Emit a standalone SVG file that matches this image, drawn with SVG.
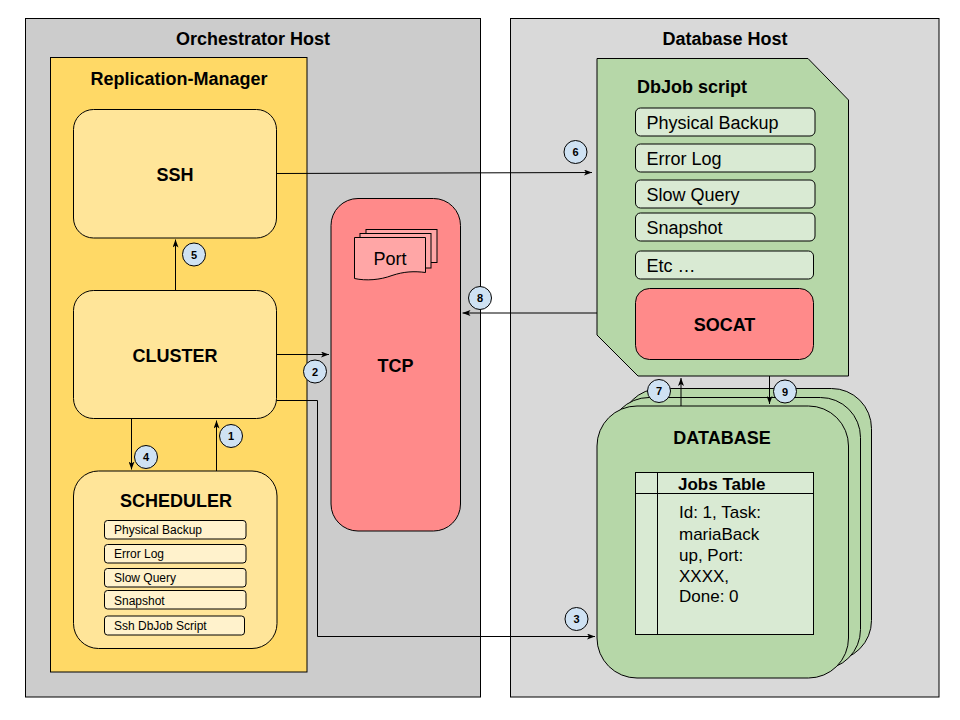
<svg xmlns="http://www.w3.org/2000/svg" width="960" height="720" viewBox="0 0 960 720">
<style>
text{font-family:"Liberation Sans",Arial,sans-serif;fill:#000}
.t{font-size:18px;font-weight:bold;text-anchor:middle}
.host{stroke:#000;stroke-width:1}
.box{fill:#ffe599;stroke:#000;stroke-width:1}
.si{fill:#fff2cc;stroke:#000;stroke-width:1}
.si-t{font-size:12px}
.di{fill:#d9ead3;stroke:#000;stroke-width:1}
.di-t{font-size:18px}
.g{fill:#b6d7a8;stroke:#000;stroke-width:1}
.red{fill:#ff8a8a;stroke:#000;stroke-width:1}
.c{fill:#cfe2f3;stroke:#000;stroke-width:1}
.n{font-size:11px;font-weight:bold;text-anchor:middle}
.e{fill:none;stroke:#000;stroke-width:1;marker-end:url(#arr)}
</style>
<defs>
<marker id="arr" viewBox="0 0 8 6" refX="8" refY="3" markerWidth="8" markerHeight="6" markerUnits="userSpaceOnUse" orient="auto">
<path d="M0,0 L8,3 L0,6 L2,3 Z" fill="#000"/>
</marker>
</defs>
<rect width="960" height="720" fill="#fff"/>

<g id="orchestrator-host">
<rect class="host" x="25.5" y="18.5" width="455" height="678.5" fill="#cccccc"/>
<text class="t" x="253" y="45">Orchestrator Host</text>
</g>
<g id="database-host">
<rect class="host" x="510.5" y="18.5" width="428.5" height="678.5" fill="#d9d9d9"/>
<text class="t" x="725" y="45">Database Host</text>
</g>
<g id="replication-manager">
<rect class="host" x="50.5" y="57.5" width="256.5" height="614.5" fill="#ffd966"/>
<text class="t" x="179" y="85">Replication-Manager</text>
</g>
<g id="ssh">
<rect class="box" x="73.5" y="109.5" width="203" height="128.5" rx="20"/>
<text class="t" x="175" y="181">SSH</text>
</g>
<g id="cluster">
<rect class="box" x="73.5" y="290.5" width="203" height="128" rx="20"/>
<text class="t" x="175" y="361.5">CLUSTER</text>
</g>
<g id="scheduler">
<rect class="box" x="73.5" y="471" width="203.5" height="177.5" rx="25"/>
<text class="t" x="176" y="507">SCHEDULER</text>
<rect class="si" x="104.5" y="520.5" width="141.5" height="18.5" rx="3"/>
<text class="si-t" x="114" y="534">Physical Backup</text>
<rect class="si" x="104.5" y="544.5" width="141.5" height="18.5" rx="3"/>
<text class="si-t" x="114" y="558">Error Log</text>
<rect class="si" x="104.5" y="568.5" width="141.5" height="18.5" rx="3"/>
<text class="si-t" x="114" y="582">Slow Query</text>
<rect class="si" x="104.5" y="590.5" width="141.5" height="18.5" rx="3"/>
<text class="si-t" x="114" y="604.5">Snapshot</text>
<rect class="si" x="104.5" y="616" width="140" height="19" rx="3"/>
<text class="si-t" x="114" y="630">Ssh DbJob Script</text>
</g>
<g id="tcp">
<rect class="red" x="331" y="198.5" width="129.5" height="332.5" rx="27"/>
<rect x="366" y="229.5" width="71" height="33" fill="#ffa6a6" stroke="#000"/>
<rect x="360" y="233.5" width="71" height="34.5" fill="#ffa6a6" stroke="#000"/>
<path d="M354.5,237.5 H425.5 V272.5 C414,271 404,271.5 392,275.5 C380,280 366,281 354.5,278.5 Z" fill="#ffa6a6" stroke="#000"/>
<text x="390" y="265" font-size="18" text-anchor="middle">Port</text>
<text class="t" x="395.5" y="372">TCP</text>
</g>
<g id="dbjob-script">
<path class="g" d="M597,58.5 H808 L848.5,100 V376 H638 L597,335 Z"/>
<text x="637" y="92.5" font-size="18" font-weight="bold">DbJob script</text>
<rect class="di" x="635.5" y="108" width="179.5" height="28" rx="5"/>
<text class="di-t" x="646.5" y="128.5">Physical Backup</text>
<rect class="di" x="635.5" y="144" width="179.5" height="28" rx="5"/>
<text class="di-t" x="646.5" y="164.5">Error Log</text>
<rect class="di" x="635.5" y="180" width="179.5" height="28" rx="5"/>
<text class="di-t" x="646.5" y="200.5">Slow Query</text>
<rect class="di" x="635.5" y="213" width="179.5" height="28" rx="5"/>
<text class="di-t" x="646.5" y="233.5">Snapshot</text>
<rect class="di" x="635.5" y="251" width="178" height="28" rx="5"/>
<text class="di-t" x="646.5" y="271.5">Etc …</text>
</g>
<g id="socat">
<rect class="red" x="635.5" y="288.5" width="178" height="71" rx="14"/>
<text class="t" x="724.5" y="330.5">SOCAT</text>
</g>
<g id="database">
<rect class="g" x="620.5" y="388.5" width="251" height="272" rx="40"/>
<rect class="g" x="609" y="397.5" width="251.5" height="272" rx="40"/>
<rect class="g" x="597" y="406" width="251.5" height="272" rx="40"/>
<text class="t" x="722" y="444">DATABASE</text>
</g>
<g id="jobs-table">
<rect class="di" x="635.5" y="472.5" width="178" height="162"/>
<line x1="635.5" y1="493.5" x2="813.5" y2="493.5" stroke="#000"/>
<line x1="657.5" y1="472.5" x2="657.5" y2="634.5" stroke="#000"/>
<text x="678" y="489.5" font-size="17" font-weight="bold">Jobs Table</text>
<text x="679" y="518" font-size="17">Id: 1, Task:</text>
<text x="679" y="540" font-size="17">mariaBack</text>
<text x="679" y="561" font-size="17">up, Port:</text>
<text x="679" y="581.5" font-size="17">XXXX,</text>
<text x="679" y="602" font-size="17">Done: 0</text>
</g>

<g id="connectors">
<path class="e" d="M216.5,471 V420.5"/>
<path class="e" d="M276.5,354.5 H329"/>
<path class="e" d="M276.5,400.5 H317.5 V636.5 H595"/>
<path class="e" d="M131.5,418.5 V469.5"/>
<path class="e" d="M175.5,290.5 V239.5"/>
<path class="e" d="M276.5,173.5 L592,172.5"/>
<path class="e" d="M681,406 V378"/>
<path class="e" d="M597,313 H462.5"/>
<path class="e" d="M769.5,376 V404"/>
</g>

<g id="labels">
<circle class="c" cx="231" cy="436" r="11.5"/><text class="n" x="231" y="440">1</text>
<circle class="c" cx="315" cy="371.5" r="11.5"/><text class="n" x="315" y="375.5">2</text>
<circle class="c" cx="576.5" cy="619" r="11.5"/><text class="n" x="576.5" y="623">3</text>
<circle class="c" cx="146" cy="457" r="11.5"/><text class="n" x="146" y="461">4</text>
<circle class="c" cx="194" cy="254.5" r="11.5"/><text class="n" x="194" y="258.5">5</text>
<circle class="c" cx="575.5" cy="152" r="11.5"/><text class="n" x="575.5" y="156">6</text>
<circle class="c" cx="659" cy="391" r="11.5"/><text class="n" x="659" y="395">7</text>
<circle class="c" cx="480" cy="298" r="11.5"/><text class="n" x="480" y="302">8</text>
<circle class="c" cx="785" cy="391.5" r="11.5"/><text class="n" x="785" y="395.5">9</text>
</g>
</svg>
